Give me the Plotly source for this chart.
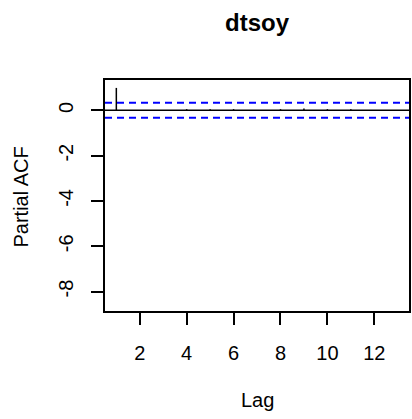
import plotly.graph_objects as go

# Partial autocorrelation of dtsoy by lag
lags = [1, 2, 3, 4, 5, 6, 7, 8, 9, 10, 11, 12, 13]
pacf_vals = [0.99, -0.02, -0.03, 0.05, 0.05, 0.05, -0.01, 0.05, 0.08, 0.05, 0.05, -0.02, -0.01]
ci_bound = 0.33

x_ticks = [2, 4, 6, 8, 10, 12]
y_ticks = [0, -2, -4, -6, -8]
y_tick_text = ["0", "-2", "-4", "-6", "-8"]

FONT = "Liberation Sans, Arial, sans-serif"

# vertical spikes from zero to each partial autocorrelation
spike_x, spike_y = [], []
for lag, v in zip(lags, pacf_vals):
    spike_x += [lag, lag, None]
    spike_y += [0, v, None]

fig = go.Figure()
fig.add_trace(go.Scatter(x=spike_x, y=spike_y, mode="lines",
                         line=dict(color="black", width=1.5),
                         hoverinfo="skip", showlegend=False))

shapes = [
    dict(type="line", xref="paper", x0=0, x1=1, yref="y", y0=0, y1=0,
         line=dict(color="black", width=1.5)),
    dict(type="line", xref="paper", x0=0, x1=1, yref="y", y0=ci_bound, y1=ci_bound,
         line=dict(color="blue", width=2, dash="7px,5px")),
    dict(type="line", xref="paper", x0=0, x1=1, yref="y", y0=-ci_bound, y1=-ci_bound,
         line=dict(color="blue", width=2, dash="7px,5px")),
]

fig.update_layout(
    width=412, height=419,
    margin=dict(l=105, r=1, t=80, b=108),
    paper_bgcolor="white", plot_bgcolor="white",
    font=dict(family=FONT, size=20, color="black"),
    showlegend=False,
    shapes=shapes,
    title=dict(text="<b>dtsoy</b>", x=0.5, xref="paper", xanchor="center",
               y=1 - 23 / 419, yref="container", yanchor="middle",
               font=dict(family=FONT, size=24, color="black")),
    annotations=[
        dict(text="Lag", xref="paper", yref="paper", x=0.5, y=0,
             xanchor="center", yanchor="middle", yshift=-89, showarrow=False,
             font=dict(family=FONT, size=20, color="black")),
        dict(text="Partial ACF", xref="paper", yref="paper", x=0, y=0.5,
             xanchor="center", yanchor="middle", xshift=-85, yshift=-2,
             textangle=-90, showarrow=False,
             font=dict(family=FONT, size=20, color="black")),
    ],
)

fig.update_xaxes(range=[0.517, 13.48], tickvals=x_ticks, ticks="outside",
                 ticklen=12, tickwidth=1.5, tickcolor="black",
                 showgrid=False, zeroline=False,
                 showline=True, linecolor="black", linewidth=1.5, mirror=True,
                 ticklabelstandoff=11)
fig.update_yaxes(range=[-8.857, 1.339], tickvals=y_ticks, ticktext=y_tick_text,
                 tickangle=-90, ticks="outside",
                 ticklen=12, tickwidth=1.5, tickcolor="black",
                 showgrid=False, zeroline=False,
                 showline=True, linecolor="black", linewidth=1.5, mirror=True,
                 ticklabelstandoff=10)

fig.write_html("out.html")
